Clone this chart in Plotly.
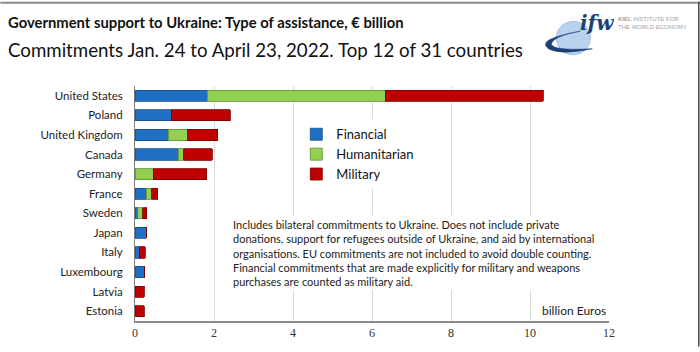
import plotly.graph_objects as go

countries = ["United States", "Poland", "United Kingdom", "Canada", "Germany", "France",
             "Sweden", "Japan", "Italy", "Luxembourg", "Latvia", "Estonia"]
financial = [1.83, 0.92, 0.84, 1.10, 0.0, 0.29, 0.07, 0.28, 0.11, 0.25, 0.0, 0.0]
humanitarian = [4.51, 0.0, 0.49, 0.14, 0.46, 0.13, 0.12, 0.0, 0.0, 0.0, 0.0, 0.0]
military = [3.99, 1.49, 0.76, 0.71, 1.36, 0.15, 0.11, 0.0, 0.15, 0.0, 0.23, 0.23]
x_ticks = [0, 2, 4, 6, 8, 10, 12]

W, H = 700, 352
L, R, T, B = 134.7, 91.3, 86, 26
PW, PH = W - L - R, H - T - B


def px(x):
    return (x - L) / PW


def py(y):
    return (H - B - y) / PH


FONT = "Lato"
fig = go.Figure()
series = [("Financial", financial, "#1f6fc5", "#1a4f8a"),
          ("Humanitarian", humanitarian, "#92d050", "#5f8f30"),
          ("Military", military, "#c00000", "#7a0000")]
for name, vals, col, edge in series:
    fig.add_trace(go.Bar(
        y=countries, x=vals, name=name, orientation="h",
        marker=dict(color=col, line=dict(color=edge, width=0.8)),
        width=0.57,
    ))

fig.update_layout(
    barmode="stack",
    width=W, height=H,
    margin=dict(l=L, r=R, t=T, b=B, pad=0),
    paper_bgcolor="white", plot_bgcolor="white",
    font=dict(family=FONT, size=12, color="#222"),
    legend=dict(
        x=px(296), y=py(120), xanchor="left", yanchor="top",
        bgcolor="white", font=dict(family=FONT, size=13, color="#111"),
        traceorder="normal", tracegroupgap=0, itemwidth=30,
    ),
    showlegend=True,
)
fig.update_xaxes(
    range=[0, 12], tickvals=x_ticks, ticktext=[str(v) for v in x_ticks],
    showgrid=True, gridcolor="#d9d9d9", gridwidth=1,
    showline=True, linecolor="#8c8c8c", linewidth=2,
    zeroline=False, ticks="", ticklen=0,
    tickfont=dict(family="Liberation Serif", size=12, color="#333"),
    fixedrange=True,
)
fig.update_yaxes(
    categoryorder="array", categoryarray=countries, autorange="reversed",
    showline=True, linecolor="#7f7f7f", linewidth=1,
    ticks="", ticklabelstandoff=9,
    tickfont=dict(family=FONT, size=11.5, color="#222"),
    showgrid=False, fixedrange=True,
)

note = ("Includes bilateral commitments to Ukraine. Does not include private<br>"
        "donations, support for refugees outside of Ukraine, and aid by international<br>"
        "organisations. EU commitments are not included to avoid double counting.<br>"
        "Financial commitments that are made explicitly for military and weapons<br>"
        "purchases are counted as military aid.")

anns = [
    dict(text="<b>Government support to Ukraine: Type of assistance, € billion</b>",
         x=px(6), y=py(21), xanchor="left", yanchor="middle",
         font=dict(family=FONT, size=14.8, color="#111")),
    dict(text="Commitments Jan. 24 to April 23, 2022. Top 12 of 31 countries",
         x=px(6), y=py(49), xanchor="left", yanchor="middle",
         font=dict(family=FONT, size=18.7, color="#111")),
    dict(text=note, x=px(230), y=py(218), xanchor="left", yanchor="top", align="left",
         bgcolor="white", borderpad=2,
         font=dict(family=FONT, size=11, color="#222")),
    dict(text="billion Euros", x=px(608), y=py(315), xanchor="right", yanchor="middle",
         bgcolor="white", font=dict(family=FONT, size=12, color="#222")),
    dict(text="<b><i>ifw</i></b>", x=px(597), y=py(22), xanchor="center", yanchor="middle",
         font=dict(family="DejaVu Serif", size=20, color="#1c3f77")),
    dict(text="<b>KIEL</b> INSTITUTE FOR<br>THE WORLD ECONOMY", x=px(616), y=py(22),
         xanchor="left", yanchor="middle", align="left",
         font=dict(family="Liberation Sans", size=6, color="#9aa3ad")),
]
for a in anns:
    a.update(xref="paper", yref="paper", showarrow=False)
    fig.add_annotation(**a)

# logo globe
fig.add_shape(type="circle", xref="paper", yref="paper",
              x0=px(556), x1=px(590), y0=py(54), y1=py(20),
              fillcolor="#b9d3ee", line=dict(color="#9fc0e4", width=1), layer="above")
fig.add_shape(type="path", xref="paper", yref="paper",
              path=(f"M {px(580)},{py(30)} Q {px(535)},{py(38)} {px(548)},{py(48)} "
                    f"Q {px(560)},{py(55)} {px(592)},{py(48)} "
                    f"Q {px(552)},{py(50)} {px(551)},{py(43)} "
                    f"Q {px(553)},{py(35)} {px(580)},{py(30)} Z"),
              fillcolor="#1c3f77", line=dict(color="#1c3f77", width=0.5), layer="above")
# frame line at the top and right
fig.add_shape(type="line", xref="paper", yref="paper",
              x0=px(0), x1=px(700), y0=py(1), y1=py(1),
              line=dict(color="#8a8a8a", width=2))
fig.add_shape(type="line", xref="paper", yref="paper",
              x0=px(698.5), x1=px(698.5), y0=py(0), y1=py(352),
              line=dict(color="#444", width=1.5))

fig.write_html("out.html")
